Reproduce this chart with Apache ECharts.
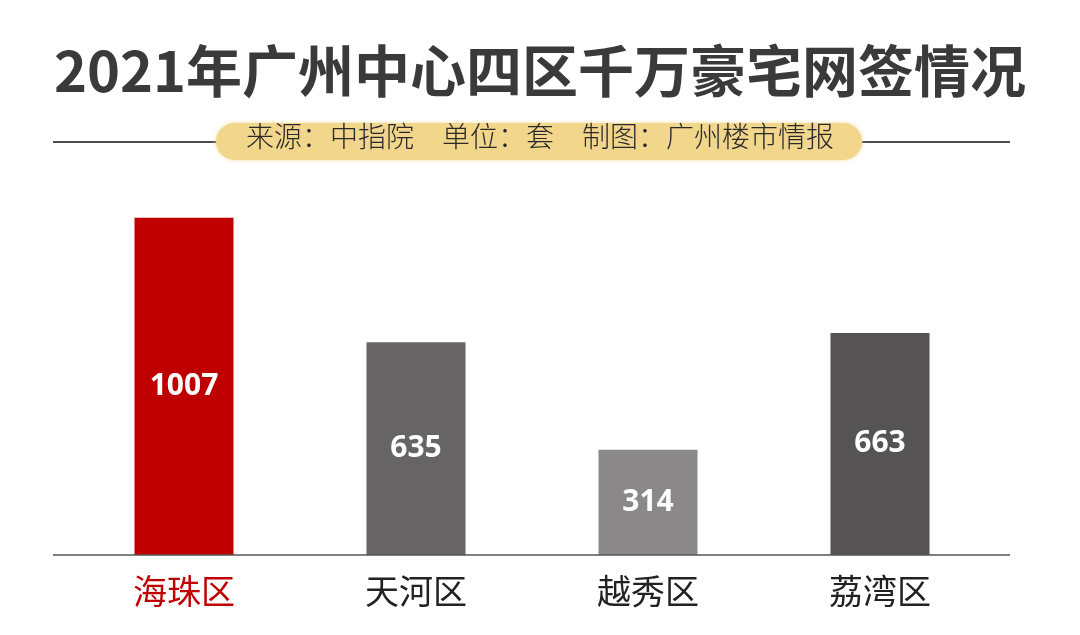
<!DOCTYPE html>
<html><head><meta charset="utf-8">
<script src="https://cdn.jsdelivr.net/npm/echarts@6/dist/echarts.min.js"></script>
<style>html,body{margin:0;padding:0;background:#fff}#c{width:1080px;height:635px}</style>
</head><body><div id="c"></div>
<script>
var titleText = '2021年广州中心四区千万豪宅网签情况';
var subtitleText = '来源：中指院　单位：套　制图：广州楼市情报';
var categories = ['海珠区', '天河区', '越秀区', '荔湾区'];
var values = [1007, 635, 314, 663];
var barColors = ['#bf0000', '#666464', '#8a8888', '#555353'];
var labelColors = ['#c00000', '#222222', '#222222', '#222222'];

var chart = echarts.init(document.getElementById('c'));
chart.setOption({
  backgroundColor: '#ffffff',
  animation: false,
  title: {
    text: titleText, left: 'center', top: 38,
    textStyle: {fontFamily: 'Noto Sans CJK SC', fontWeight: 'bold', fontSize: 56, color: '#3a3a3a'}
  },
  graphic: [
    {type: 'line', shape: {x1: 53, y1: 142, x2: 1010, y2: 142}, style: {stroke: '#111', lineWidth: 1.5}, z: 1},
    {type: 'rect', shape: {x: 216, y: 123, width: 646, height: 37, r: 18.5},
     style: {fill: '#f2d68c', shadowBlur: 4, shadowColor: 'rgba(242,214,140,0.8)'}, z: 2},
    {type: 'text', left: 'center', top: 122, z: 3,
     style: {text: subtitleText, font: '300 28px "Noto Sans CJK SC"', fill: '#2a2a2a'}},
    {type: 'line', shape: {x1: 53, y1: 555, x2: 1010, y2: 555}, style: {stroke: '#555', lineWidth: 1.5}, z: 10}
  ],
  grid: {left: 68, right: 84, top: 153, bottom: 80},
  xAxis: {
    type: 'category', data: categories,
    axisLine: {show: false}, axisTick: {show: false},
    axisLabel: {
      margin: 19, fontSize: 34, fontFamily: 'Noto Sans CJK SC',
      color: function (v, i) { return labelColors[i]; }
    }
  },
  yAxis: {type: 'value', min: 0, max: 1200, show: false, splitLine: {show: false}},
  series: [{
    type: 'bar', barWidth: 99,
    data: values.map(function (v, i) { return {value: v, itemStyle: {color: barColors[i]}}; }),
    label: {show: true, position: 'inside', color: '#fff', fontSize: 30, fontWeight: 'bold', fontFamily: 'Open Sans'}
  }]
});
</script></body></html>
